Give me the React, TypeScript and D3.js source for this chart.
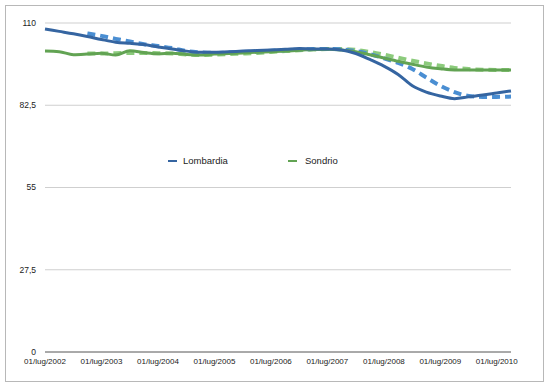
import * as d3 from "d3";

// quarterly observations, Jul 2002 .. Oct 2010
const quarters = [
  "2002-07", "2002-10", "2003-01", "2003-04", "2003-07", "2003-10", "2004-01", "2004-04",
  "2004-07", "2004-10", "2005-01", "2005-04", "2005-07", "2005-10", "2006-01", "2006-04",
  "2006-07", "2006-10", "2007-01", "2007-04", "2007-07", "2007-10", "2008-01", "2008-04",
  "2008-07", "2008-10", "2009-01", "2009-04", "2009-07", "2009-10", "2010-01", "2010-04",
  "2010-07", "2010-10",
];

const lombardia = [
  108.0, 107.2, 106.4, 105.5, 104.5, 103.6, 103.2, 102.8, 102.0, 101.3, 100.6, 100.2,
  100.2, 100.4, 100.6, 100.8, 101.0, 101.2, 101.5, 101.3, 101.3, 101.0, 99.8, 97.8,
  95.6, 92.8, 89.0, 86.9, 85.6, 84.7, 85.3, 85.9, 86.6, 87.3,
];

const lombardiaTrend = [
  null, null, null, 106.5, 105.7, 104.7, 103.8, 102.9, 102.3, 101.6, 100.6, 100.2,
  100.0, 100.1, 100.3, 100.5, 100.7, 100.9, 101.1, 101.3, 101.3, 101.2, 100.6, 99.6,
  98.2, 96.7, 94.6, 91.8, 89.0, 86.9, 85.6, 85.3, 85.3, 85.4,
];

const sondrio = [
  100.6, 100.4, 99.4, 99.6, 99.9, 99.3, 100.7, 100.1, 99.7, 99.9, 99.5, 99.3,
  99.6, 99.8, 100.0, 100.2, 100.4, 100.6, 100.9, 101.1, 101.2, 101.0, 100.4, 99.4,
  98.3, 97.2, 96.2, 95.3, 94.7, 94.3, 94.3, 94.3, 94.3, 94.3,
];

const sondrioTrend = [
  null, null, null, 99.8, 99.8, 99.9, 100.0, 100.0, 99.9, 99.8, 99.5, 99.3,
  99.4, 99.6, 99.8, 100.0, 100.3, 100.6, 100.9, 101.1, 101.3, 101.3, 101.0, 100.3,
  99.4, 98.4, 97.4, 96.5, 95.7, 95.0, 94.6, 94.4, 94.3, 94.3,
];

const yTicks = [0, 27.5, 55, 82.5, 110];
const xTickDates = ["2002-07", "2003-07", "2004-07", "2005-07", "2006-07", "2007-07", "2008-07", "2009-07", "2010-07"];
const xTickLabels = [
  "01/lug/2002", "01/lug/2003", "01/lug/2004", "01/lug/2005", "01/lug/2006",
  "01/lug/2007", "01/lug/2008", "01/lug/2009", "01/lug/2010",
];

const parse = d3.timeParse("%Y-%m");
const font = "Helvetica, 'Liberation Sans', Arial, sans-serif";

export default function App() {
  const width = 551;
  const height = 391;
  const plot = { left: 45, right: 511, top: 23, bottom: 352 };

  const x = d3
    .scaleTime()
    .domain([parse("2002-07")!, parse("2010-10")!])
    .range([plot.left, plot.right]);
  const y = d3.scaleLinear().domain([0, 110]).range([plot.bottom, plot.top]);

  const line = d3
    .line<number | null>()
    .defined((d) => d != null)
    .x((_, i) => x(parse(quarters[i])!))
    .y((d) => y(d as number))
    .curve(d3.curveMonotoneX);

  const series = [
    { values: sondrioTrend, color: "#8ccb7c", width: 4, dash: "8,5" },
    { values: lombardiaTrend, color: "#4a8ed2", width: 4, dash: "8,5" },
    { values: sondrio, color: "#62a353", width: 3, dash: undefined },
    { values: lombardia, color: "#3565a1", width: 3, dash: undefined },
  ];

  return (
    <svg
      width={width}
      height={height}
      style={{ position: "absolute", left: 0, top: 0, background: "#fff" }}
      fontFamily={font}
    >
      <rect x={5.5} y={5.5} width={538} height={376} fill="#fff" stroke="#b8b8b8" />

      {yTicks.map((t) => (
        <g key={t}>
          {t > 0 && (
            <line x1={plot.left} x2={plot.right} y1={y(t)} y2={y(t)} stroke="#cfcfcf" strokeWidth={1} />
          )}
          <text x={36} y={y(t)} dy="0.35em" textAnchor="end" fontSize={8.5} fill="#222">
            {String(t).replace(".", ",")}
          </text>
        </g>
      ))}

      <line x1={plot.left} x2={plot.right} y1={plot.bottom} y2={plot.bottom} stroke="#555" strokeWidth={1} />

      {xTickDates.map((d, i) => (
        <text key={d} x={x(parse(d)!)} y={364} textAnchor="middle" fontSize={8} fill="#222">
          {xTickLabels[i]}
        </text>
      ))}

      {series.map((s, i) => (
        <path
          key={i}
          d={line(s.values) ?? ""}
          fill="none"
          stroke={s.color}
          strokeWidth={s.width}
          strokeDasharray={s.dash}
        />
      ))}

      <g fontSize={9.5} fill="#222">
        <line x1={168} x2={177} y1={161} y2={161} stroke="#3565a1" strokeWidth={2} />
        <text x={183} y={161} dy="0.35em">Lombardia</text>
        <line x1={288} x2={297} y1={161} y2={161} stroke="#62a353" strokeWidth={2} />
        <text x={305} y={161} dy="0.35em">Sondrio</text>
      </g>
    </svg>
  );
}
